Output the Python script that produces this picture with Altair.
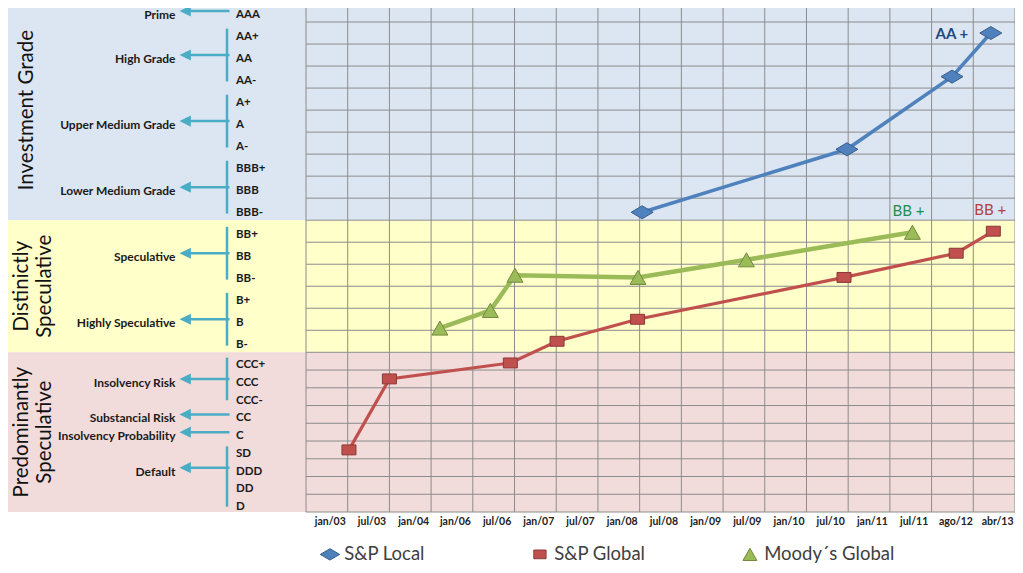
import altair as alt
import pandas as pd

# ---------------- data ----------------
ratings = ["AAA", "AA+", "AA", "AA-", "A+", "A", "A-", "BBB+", "BBB", "BBB-",
           "BB+", "BB", "BB-", "B+", "B", "B-", "CCC+", "CCC", "CCC-", "CC",
           "C", "SD", "DDD", "DD", "D"]
x_labels = ["jan/03", "jul/03", "jan/04", "jan/06", "jul/06", "jan/07", "jul/07",
            "jan/08", "jul/08", "jan/09", "jul/09", "jan/10", "jul/10", "jan/11",
            "jul/11", "ago/12", "abr/13"]
series_names = ["S&P Local", "S&P Global", "Moody´s Global"]

# x: position along the time columns, y: position on the rating scale (0 = AAA)
sp_local_x = [8.06, 12.97, 15.49, 16.42]
sp_local_y = [9.14, 6.28, 2.98, 1.0]
sp_global_x = [1.03, 2.0, 4.9, 6.02, 7.95, 12.9, 15.59, 16.48]
sp_global_y = [21.0, 17.0, 16.1, 15.0, 14.0, 12.1, 11.0, 10.0]
moodys_x = [3.21, 4.42, 5.01, 7.96, 10.56, 14.54]
moodys_y = [14.4, 13.6, 12.0, 12.1, 11.3, 10.05]
end_labels = ["AA +", "BB +", "BB +"]

band_keys = ["inv", "dist", "pred"]
band_line1 = ["Investment Grade", "Distinictly", "Predominantly"]
band_line2 = ["", "Speculative", "Speculative"]
band_first = ["AAA", "BB+", "CCC+"]
band_last = ["BBB-", "B-", "D"]

group_names = ["Prime", "High Grade", "Upper Medium Grade", "Lower Medium Grade",
               "Speculative", "Highly Speculative", "Insolvency Risk",
               "Substancial Risk", "Insolvency Probability", "Default"]
group_first = ["AAA", "AA+", "A+", "BBB+", "BB+", "B+", "CCC+", "CC", "C", "SD"]
group_last = ["AAA", "AA-", "A-", "BBB-", "BB-", "B-", "CCC-", "CC", "C", "D"]
group_label_at = ["AAA", "AA", "A", "BBB", "BB", "B", "CCC", "CC", "C", "DDD"]

# ---------------- styling ----------------
W, H = 709, 512
FONT = "Lato"
band_colors = ["#DCE6F2", "#FFFFC9", "#F2DCDB"]
fill_colors = ["#4F81BD", "#C0504D", "#9BBB59"]
edge_colors = ["#385D8A", "#8C3836", "#71893F"]
line_widths = [3.5, 3.2, 4.5]
label_colors = ["#1F497D", "#B0413E", "#1D8F4C"]
label_weights = ["bold", "normal", "normal"]
label_dx = [-39, -3, -4]
label_dy = [1, -21, -21]
shapes = ["M-1.57,0L0,-0.93L1.57,0L0,0.93Z",
          "M-1,-0.71L1,-0.71L1,0.71L-1,0.71Z",
          "M0,-1L1.14,1L-1.14,1Z"]
ARROW = "#4BACC6"
GRID = "#8C8C8C"

idx = {r: i for i, r in enumerate(ratings)}

xscale = alt.Scale(domain=[0, 17], nice=False, zero=False)
yscale = alt.Scale(domain=[-0.5, 15.5, 24.5], range=[0, 352.3, 512], nice=False, zero=False)
label_expr = "[" + ",".join("'%s'" % s for s in x_labels) + "][floor(datum.value)]"
xaxis = alt.Axis(values=[i + 0.57 for i in range(len(x_labels))], labelExpr=label_expr,
                 grid=False, ticks=False, domain=False, title=None,
                 labelFont=FONT, labelFontSize=10.5, labelFontWeight="bold",
                 labelColor="#222222", labelPadding=4, labelFlush=False,
                 labelOverlap=False)


def X(f):
    return alt.X(f, type="quantitative", scale=xscale, axis=xaxis)


def Y(f):
    return alt.Y(f, type="quantitative", scale=yscale, axis=None)


# ---------------- tables ----------------
pts = []
for s, xs, ys in zip(series_names, [sp_local_x, sp_global_x, moodys_x],
                     [sp_local_y, sp_global_y, moodys_y]):
    for a, b in zip(xs, ys):
        pts.append({"series": s, "x": a, "y": b})
pts = pd.DataFrame(pts)

bands = pd.DataFrame({"key": band_keys, "l1": band_line1, "l2": band_line2,
                      "two": [b != "" for b in band_line2],
                      "y0": [idx[r] - 0.5 for r in band_first],
                      "y1": [idx[r] + 0.5 for r in band_last],
                      "ym": [(idx[a] + idx[b]) / 2 for a, b in zip(band_first, band_last)]})
rat = pd.DataFrame({"rating": ratings, "pos": [idx[r] for r in ratings]})
groups = pd.DataFrame({"name": group_names,
                       "y0": [idx[r] - 0.2 for r in group_first],
                       "y1": [idx[r] + 0.2 for r in group_last],
                       "multi": [a != b for a, b in zip(group_first, group_last)],
                       "at": [idx[r] for r in group_label_at]})
vlines = pd.DataFrame({"x": list(range(len(x_labels) + 1))})
hlines = pd.DataFrame({"y": [i - 0.5 for i in range(len(ratings) + 1)]})

# ---------------- layers ----------------
band_layer = alt.Chart(bands).mark_rect().encode(
    x=alt.value(-300), x2=alt.value(W + 2), y=Y("y0"), y2="y1",
    color=alt.Color("key:N", scale=alt.Scale(domain=band_keys, range=band_colors), legend=None))

vgrid = alt.Chart(vlines).mark_rule(color=GRID, strokeWidth=1).encode(
    x=X("x"), y=alt.value(0), y2=alt.value(H))
hgrid = alt.Chart(hlines).mark_rule(color=GRID, strokeWidth=1).encode(
    x=alt.value(0), x2=alt.value(W), y=Y("y"))

title_style = dict(angle=270, align="center", baseline="middle", font=FONT,
                   fontSize=20.5, color="#111111")
title_one = alt.Chart(bands).transform_filter("!datum.two").mark_text(**title_style).encode(
    x=alt.value(-279), y=Y("ym"), text="l1:N")
title_a = alt.Chart(bands).transform_filter("datum.two").mark_text(**title_style).encode(
    x=alt.value(-284.5), y=Y("ym"), text="l1:N")
title_b = alt.Chart(bands).transform_filter("datum.two").mark_text(**title_style).encode(
    x=alt.value(-261.5), y=Y("ym"), text="l2:N")

rating_text = alt.Chart(rat).mark_text(align="left", baseline="middle", dy=4,
                                       font=FONT, fontSize=11.5, fontWeight="bold",
                                       color="#1A1A1A").encode(
    x=alt.value(-70), y=Y("pos"), text="rating:N")

group_text = alt.Chart(groups).mark_text(align="right", baseline="middle", dy=4,
                                         font=FONT, fontSize=12, fontWeight="bold",
                                         color="#1A1A1A").encode(
    x=alt.value(-130.5), y=Y("at"), text="name:N")

brackets = alt.Chart(groups).transform_filter("datum.multi").mark_rule(
    color=ARROW, strokeWidth=2.5).encode(x=alt.value(-79), y=Y("y0"), y2="y1")

arrow_lines = alt.Chart(groups).mark_rule(color=ARROW, strokeWidth=2.5).encode(
    x=alt.value(-76.5), x2=alt.value(-118.5), y=Y("at"))

arrow_heads = alt.Chart(groups).mark_point(
    shape="M-1,0L0.75,-0.85L0.75,0.85Z", size=170, filled=True, opacity=1,
    color=ARROW).encode(x=alt.value(-120), y=Y("at"))

line_layers = []
label_layers = []
for i, s in enumerate(series_names):
    line_layers.append(
        alt.Chart(pts).transform_filter(alt.datum.series == s).mark_line(
            color=fill_colors[i], strokeWidth=line_widths[i]).encode(x=X("x"), y=Y("y")))
    sub = pts[pts.series == s].tail(1).assign(label=end_labels[i])
    label_layers.append(
        alt.Chart(sub).mark_text(font=FONT, fontSize=15, fontWeight=label_weights[i],
                                 color=label_colors[i], dx=label_dx[i], dy=label_dy[i],
                                 align="center", baseline="middle").encode(
            x=X("x"), y=Y("y"), text="label:N"))

leg = alt.Legend(title=None, orient="none", legendX=14.7, legendY=545, direction="horizontal",
                 labelFont=FONT, labelFontSize=18.5, labelColor="#404040", symbolSize=150,
                 symbolStrokeWidth=1, labelOffset=5, columnPadding=56, gridAlign="all",
                 padding=0)
point_layer = alt.Chart(pts).mark_point(filled=True, size=196, opacity=1, strokeWidth=1).encode(
    x=X("x"), y=Y("y"),
    fill=alt.Fill("series:N", scale=alt.Scale(domain=series_names, range=fill_colors), legend=leg),
    stroke=alt.Stroke("series:N", scale=alt.Scale(domain=series_names, range=edge_colors), legend=leg),
    shape=alt.Shape("series:N", scale=alt.Scale(domain=series_names, range=shapes), legend=leg))

chart = alt.layer(
    band_layer, vgrid, hgrid, title_one, title_a, title_b, rating_text, group_text,
    brackets, arrow_lines, arrow_heads, *line_layers, point_layer, *label_layers
).properties(
    width=W, height=H,
    autosize=alt.AutoSizeParams(type="none"),
    padding={"left": 298, "top": -8, "right": 0, "bottom": 53},
    background="white",
).configure_view(strokeWidth=0)

chart.save("out.html", embed_options={"renderer": "svg", "actions": False})
